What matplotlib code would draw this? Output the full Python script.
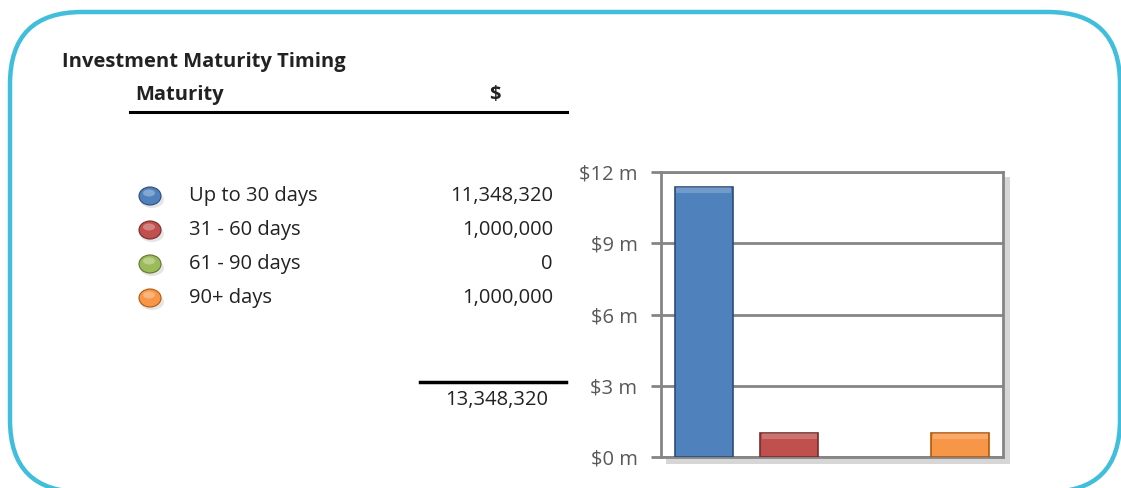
import matplotlib.pyplot as plt
from matplotlib.patches import FancyBboxPatch, Ellipse, Rectangle

categories = ["Up to 30 days", "31 - 60 days", "61 - 90 days", "90+ days"]
values = [11348320, 1000000, 0, 1000000]
total = 13348320
colors = ["#4F81BD", "#C0504D", "#9BBB59", "#F79646"]
edge_colors = ["#2C4D75", "#772C2A", "#5F7530", "#B65708"]
yticks = [0, 3, 6, 9, 12]
ytick_labels = ["$0 m", "$3 m", "$6 m", "$9 m", "$12 m"]

plt.rcParams['font.family'] = ['Open Sans', 'DejaVu Sans']

W, H = 1121, 488
fig = plt.figure(figsize=(W / 100, H / 100), dpi=100)

# overlay in pixel units (y measured from the top via fy)
bg = fig.add_axes([0, 0, 1, 1])
bg.set_xlim(0, W)
bg.set_ylim(0, H)
bg.axis("off")


def fy(y):
    return H - y


border = FancyBboxPatch((10, fy(492)), 1110, 480, boxstyle="round,pad=0,rounding_size=72",
                        facecolor="none", edgecolor="#41BEDB", linewidth=3.2)
bg.add_patch(border)

text_col = "#222222"
fs = 14.5
bg.text(62, fy(62), "Investment Maturity Timing", fontsize=fs, fontweight="bold",
        color=text_col, va="center", ha="left")
bg.text(135, fy(95), "Maturity", fontsize=fs, fontweight="bold", color=text_col,
        va="center", ha="left")
bg.text(495, fy(95), "$", fontsize=fs, fontweight="bold", color=text_col,
        va="center", ha="center")
bg.plot([130, 567], [fy(112), fy(112)], color="black", lw=2.2)

row_y = [196, 230, 264, 298]
for y, cat, v, c, ec in zip(row_y, categories, values, colors, edge_colors):
    bg.add_patch(Ellipse((152, fy(y + 4)), 24, 16, facecolor="#CCCCCC", edgecolor="none", alpha=0.5))
    bg.add_patch(Ellipse((150, fy(y)), 22, 18, facecolor=c, edgecolor=ec, lw=0.8))
    bg.add_patch(Ellipse((149, fy(y - 3)), 12, 7, facecolor="white", edgecolor="none", alpha=0.3))
    bg.text(189, fy(y), cat, fontsize=fs, color=text_col, va="center", ha="left")
    bg.text(553, fy(y), f"{v:,}", fontsize=fs, color=text_col, va="center", ha="right")

bg.plot([420, 566], [fy(382), fy(382)], color="black", lw=2.5)
bg.text(548, fy(400), f"{total:,}", fontsize=fs, color=text_col, va="center", ha="right")

# shadow behind the plot area
bg.add_patch(Rectangle((666, fy(464)), 344, 287, facecolor="#BBBBBB", edgecolor="none",
                       alpha=0.6, zorder=1))

# bar chart
left, right, top, bottom = 661, 1003, 172, 457
ax = fig.add_axes([left / W, 1 - bottom / H, (right - left) / W, (bottom - top) / H])
ax.set_facecolor("white")
x = list(range(len(categories)))
mvals = [v / 1e6 for v in values]
ax.bar(x, mvals, width=0.68, color=colors, edgecolor=edge_colors,
       linewidth=[1.2 if v > 0 else 0 for v in mvals], zorder=3)
# light bevel along the top of each bar
ax.bar(x, [0.25 if v > 0 else 0 for v in mvals], bottom=[v - 0.25 for v in mvals],
       width=0.64, color="white", alpha=0.2, linewidth=0, zorder=4)
ax.set_xlim(-0.5, 3.5)
ax.set_ylim(0, 12)
ax.set_yticks(yticks)
ax.set_yticklabels(ytick_labels)
ax.set_xticks([])
ax.yaxis.grid(True, color="#858585", lw=2, zorder=0)
ax.set_axisbelow(True)
for s in ax.spines.values():
    s.set_color("#858585")
    s.set_linewidth(2)
ax.tick_params(axis="y", direction="out", length=7, width=2, color="#858585",
               labelcolor="#595959", labelsize=fs, pad=10)

fig.savefig("out.png", dpi=100)
